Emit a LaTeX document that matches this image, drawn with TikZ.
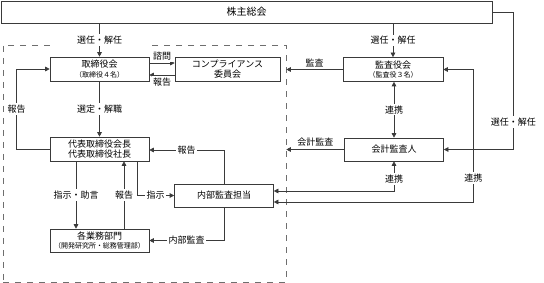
\documentclass[tikz,border=0pt]{standalone}
\usepackage{fontspec}
\setmainfont{Noto Sans CJK JP}
\usepackage{tikz}
\usetikzlibrary{arrows.meta,positioning,calc}
\definecolor{cline}{HTML}{3A3A3A}
\definecolor{cdash}{HTML}{6E6E6E}
\newcommand{\subtxt}{\fontsize{7}{8}\selectfont}
\tikzset{
  box/.style={draw=cline, line width=0.6pt, minimum height=23pt, minimum width=99pt, inner sep=1pt, font=\fontsize{9}{10.5}\selectfont, fill=white, align=center},
  pre/.style={-{Triangle[length=4.5pt,width=4.5pt]}, line width=0.6pt, draw=cline},
  dpre/.style={{Triangle[length=4.5pt,width=4.5pt]}-{Triangle[length=4.5pt,width=4.5pt]}, line width=0.6pt, draw=cline},
  lbl/.style={font=\fontsize{9}{10}\selectfont, fill=white, inner sep=1.5pt},
  corp/.style={draw=cdash, line width=0.6pt, dash pattern=on 6pt off 6pt, minimum width=283pt, minimum height=237pt},
}
\begin{document}
\begin{tikzpicture}[x=1pt,y=-1pt]
\useasboundingbox (0,0) rectangle (544,283);
% ---------------- company frame
\node[corp] (firm) at (144.5,163.5) {};
% ---------------- boxes
\node[box, minimum width=491pt, minimum height=22pt, font=\fontsize{10}{12}\selectfont] (gm) at (246.5,12) {株主総会};
\node[box, minimum height=24pt] (bod) at (99.5,69) {取締役会\\[-1pt]{\subtxt（取締役４名）}};
\node[box, minimum width=105pt, minimum height=24pt] (comp) at (227.5,69) {コンプライアンス\\[-1pt]委員会};
\node[box, minimum height=24pt, font=\fontsize{9}{10}\selectfont] (rep) at (99.5,149) {代表取締役会長\\代表取締役社長};
\node[box] (iad) at (224,195.5) {内部監査担当};
\node[box] (div) at (99.5,240.5) {各業務部門\\[-1pt]{\subtxt（開発研究所・総務管理部）}};
\node[box, minimum width=100pt, minimum height=24pt] (kan) at (393,69.5) {監査役会\\[-1pt]{\subtxt（監査役３名）}};
\node[box, minimum width=99pt] (acc) at (394,149.5) {会計監査人};
% ---------------- shareholders
\draw[pre] (gm.south -| bod.north) -- node[lbl, minimum width=100pt] {選任・解任} (bod.north);
\draw[pre] (gm.south -| kan.north) -- node[lbl] {選任・解任} (kan.north);
\draw[pre] (gm.east) -- ++(21,0) |- node[lbl, pos=0.4] {選任・解任} (acc.east);
% ---------------- inside the company
\draw[pre] ([yshift=6pt]bod.east) -- node[lbl, above=1pt] {諮問} ([yshift=6pt]comp.west);
\draw[pre] ([yshift=-6pt]comp.west) -- node[lbl, below=1pt] {報告} ([yshift=-6pt]bod.east);
\draw[pre] (bod.south) -- node[lbl] {選定・解職} (rep.north);
\draw[pre] (rep.west) -- ++(-33,0) |- node[lbl, pos=0.25] {報告} (bod.west);
\draw[pre] ([xshift=-23.5pt]rep.south) -- node[lbl] {指示・助言} ([xshift=-23.5pt]div.north);
\draw[pre] ([xshift=24.5pt]div.north) -- node[lbl] {報告} ([xshift=24.5pt]rep.south);
\draw[pre] ([xshift=37.5pt]rep.south) |- node[lbl, pos=0.75] {指示} (iad.west);
\draw[pre] (iad.north) |- node[lbl, pos=0.75] {報告} ([yshift=-1pt]rep.east);
\draw[pre] (iad.south) |- node[lbl, pos=0.75] {内部監査} (div.east);
% ---------------- auditors
\draw[pre] (kan.west) -- node[lbl, above=1pt] {監査} (kan.west -| firm.east);
\draw[pre] (acc.west) -- node[lbl, above=1pt] {会計監査} (acc.west -| firm.east);
\draw[dpre] (kan.south -| acc.north) -- node[lbl] {連携} (acc.north);
\draw[dpre] (acc.south) |- node[lbl, pos=0.3] {連携} ([yshift=4.5pt]iad.east);
\draw[dpre] (kan.east) -- ++(30,0) |- node[lbl, pos=0.41] {連携} ([yshift=-6.5pt]iad.east);
\end{tikzpicture}
\end{document}
